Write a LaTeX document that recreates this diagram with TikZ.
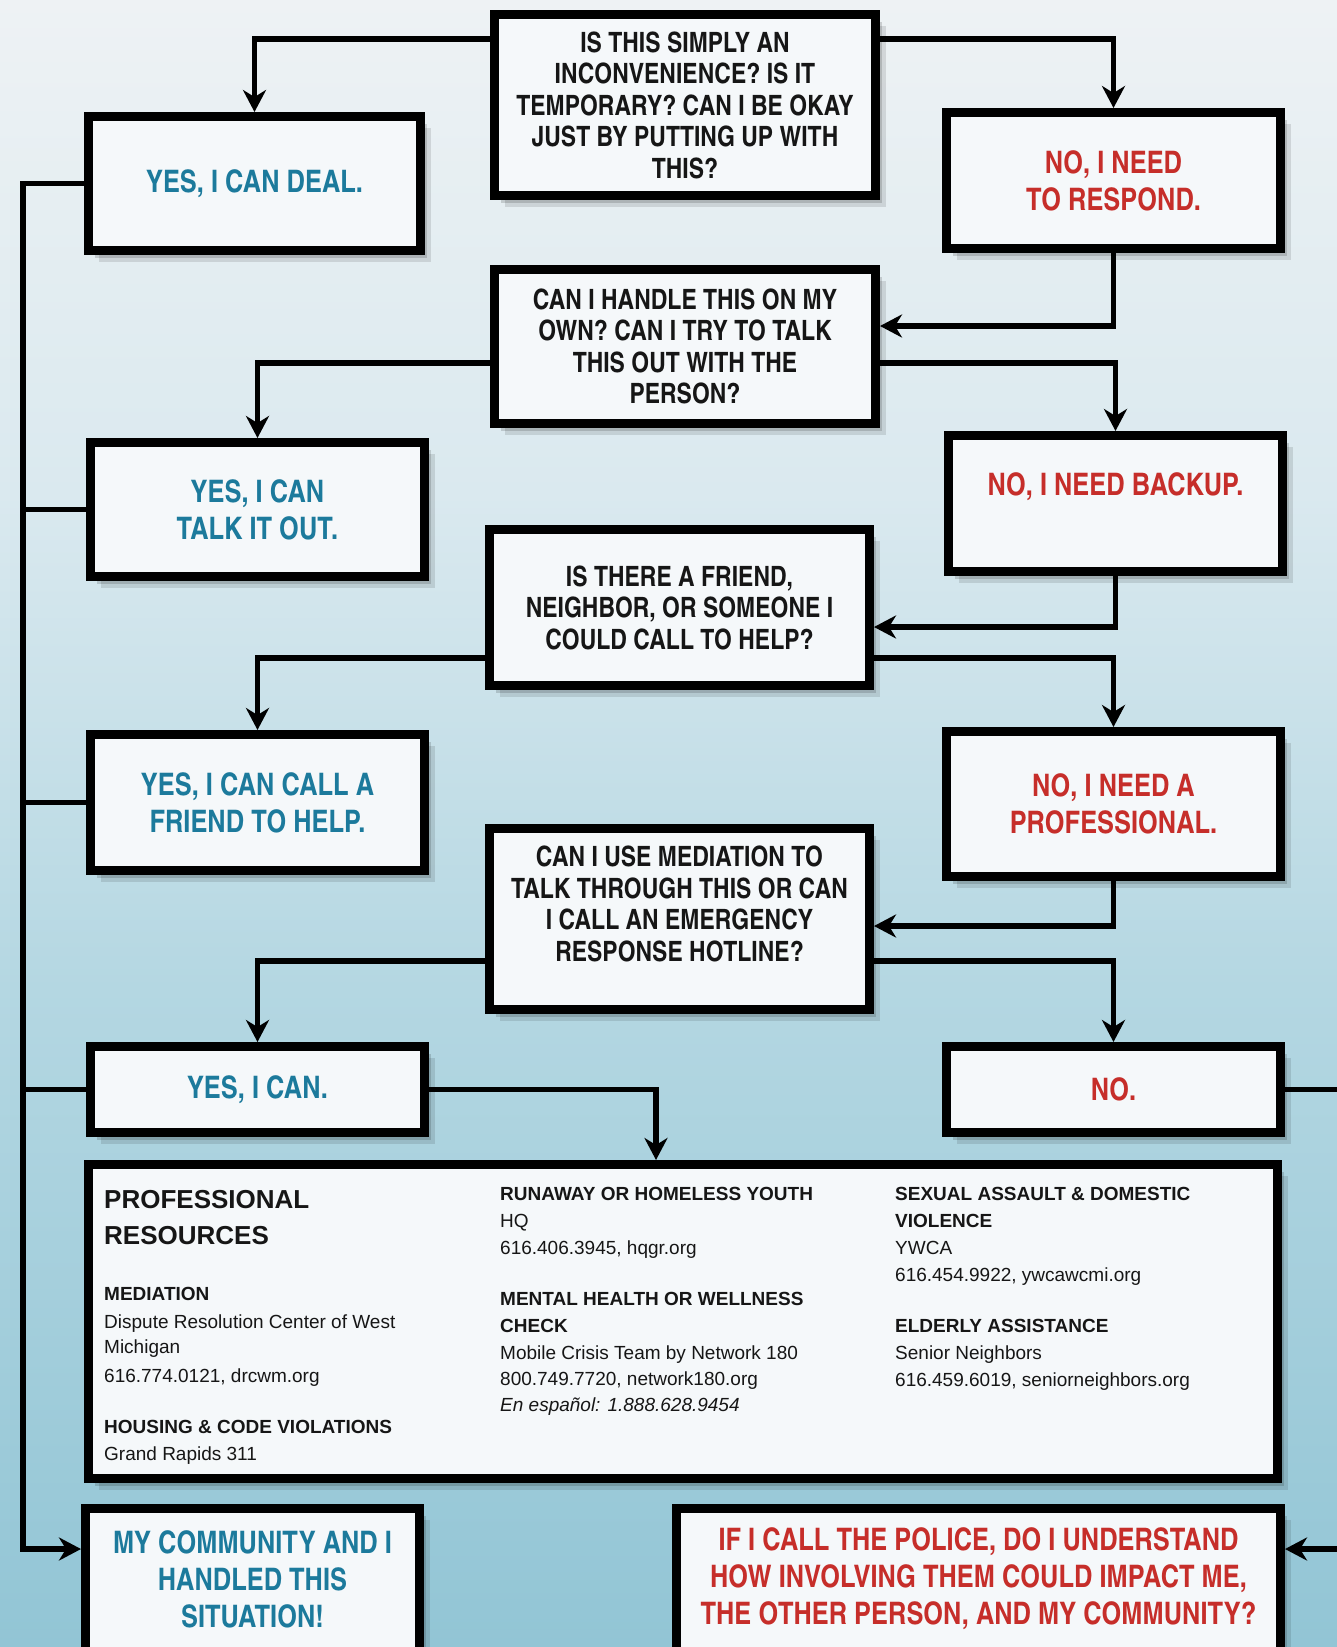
\documentclass[tikz,border=0pt]{standalone}
\usepackage{fontspec}
\setmainfont{Liberation Sans}
\newfontfamily\cn{texgyreheroscn}[Extension=.otf,UprightFont=*-regular,BoldFont=*-bold,ItalicFont=*-italic,BoldItalicFont=*-bolditalic]
\usetikzlibrary{arrows.meta,shadows}
\definecolor{bgtop}{RGB}{238,242,244}
\definecolor{bglight}{RGB}{218,233,239}
\definecolor{bgmid}{RGB}{180,215,226}
\definecolor{bgbot}{RGB}{146,197,213}
\definecolor{boxfill}{RGB}{245,248,250}
\definecolor{yesblue}{RGB}{28,122,156}
\definecolor{nored}{RGB}{198,46,42}
\definecolor{qblack}{RGB}{22,22,22}
\pgfdeclareverticalshading{bgshade}{100bp}{color(0bp)=(bgbot); color(25bp)=(bgbot); color(45bp)=(bgmid); color(60bp)=(bglight); color(75bp)=(bgtop); color(100bp)=(bgtop)}
\tikzset{
  softshadow/.style={
    drop shadow={shadow xshift=3pt,shadow yshift=-3pt,opacity=.16,fill=black},
    drop shadow={shadow xshift=6pt,shadow yshift=-7pt,opacity=.15,fill=black},
    drop shadow={shadow xshift=10pt,shadow yshift=-11pt,opacity=.11,fill=black}},
  box/.style={draw=black, line width=9pt, fill=boxfill, inner sep=0pt, align=center, softshadow},
  qtext/.style={font=\cn\bfseries\fontsize{28}{31.5}\selectfont, text=qblack},
  ytext/.style={font=\cn\bfseries\fontsize{31}{37}\selectfont, text=yesblue},
  ntext/.style={font=\cn\bfseries\fontsize{31}{37}\selectfont, text=nored},
  conn/.style={line width=5.5pt, draw=black, -{Stealth[length=22pt,width=23pt,inset=7pt]}},
  plain/.style={line width=5.5pt, draw=black},
  rhead/.style={font=\bfseries\fontsize{26}{36}\selectfont, anchor=base west, inner sep=0pt, text=qblack},
  rsub/.style={font=\bfseries\fontsize{19}{26}\selectfont, anchor=base west, inner sep=0pt, text=qblack},
  rbody/.style={font=\fontsize{19}{26}\selectfont, anchor=base west, inner sep=0pt, text=qblack},
  rital/.style={font=\itshape\fontsize{19}{26}\selectfont, anchor=base west, inner sep=0pt, text=qblack},
}
\begin{document}
\begin{tikzpicture}[x=1pt,y=-1pt]
\useasboundingbox (0,0) rectangle (1337,1647);
\fill[shading=bgshade] (0,0) rectangle (1337,1647);

% question boxes
\node[box, qtext, minimum width=381pt, minimum height=181pt] (q1) at (685,105)
  {IS THIS SIMPLY AN\\INCONVENIENCE? IS IT\\TEMPORARY? CAN I BE OKAY\\JUST BY PUTTING UP WITH\\THIS?};
\node[box, qtext, minimum width=381pt, minimum height=154pt] (q2) at (685,346.5)
  {CAN I HANDLE THIS ON MY\\OWN? CAN I TRY TO TALK\\THIS OUT WITH THE\\PERSON?};
\node[box, qtext, minimum width=380pt, minimum height=156pt] (q3) at (679.5,607.5)
  {IS THERE A FRIEND,\\NEIGHBOR, OR SOMEONE I\\COULD CALL TO HELP?};
\node[box, minimum width=380pt, minimum height=181pt,
  label={[name=q4t, qtext, align=center, yshift=15pt]center:{CAN I USE MEDIATION TO\\TALK THROUGH THIS OR CAN\\I CALL AN EMERGENCY\\RESPONSE HOTLINE?}}] (q4) at (679.5,919) {};

% yes boxes
\node[box, ytext, minimum width=332pt, minimum height=134pt] (y1) at (254.5,183.5) {YES, I CAN DEAL.};
\node[box, ytext, minimum width=334pt, minimum height=134pt] (y2) at (257.5,509.5) {YES, I CAN\\TALK IT OUT.};
\node[box, ytext, minimum width=334pt, minimum height=136pt] (y3) at (257.5,802.5) {YES, I CAN CALL A\\FRIEND TO HELP.};
\node[box, ytext, minimum width=334pt, minimum height=86pt] (y4) at (257.5,1089.5) {YES, I CAN.};

% no boxes
\node[box, ntext, minimum width=334pt, minimum height=136pt] (n1) at (1113.5,180.5) {NO, I NEED\\TO RESPOND.};
\node[box, minimum width=334pt, minimum height=136pt,
  label={[name=n2t, ntext, yshift=17pt]center:{NO, I NEED BACKUP.}}] (n2) at (1115.5,503.5) {};
\node[box, ntext, minimum width=334pt, minimum height=145pt] (n3) at (1113.5,804) {NO, I NEED A\\PROFESSIONAL.};
\node[box, ntext, minimum width=334pt, minimum height=86pt] (n4) at (1113.5,1089.5) {NO.};

% resources
\node[box, minimum width=1189pt, minimum height=314pt] (res) at (683,1321.5) {};
\node[rhead] (rh1) at (104,1208) {PROFESSIONAL};
\node[rhead] (rh2) at (104,1244) {RESOURCES};
\node[rsub]  (a1) at (104,1300) {MEDIATION};
\node[rbody] (a2) at (104,1328) {Dispute Resolution Center of West};
\node[rbody] (a3) at (104,1353) {Michigan};
\node[rbody] (a4) at (104,1382) {616.774.0121, drcwm.org};
\node[rsub]  (a5) at (104,1433) {HOUSING \& CODE VIOLATIONS};
\node[rbody] (a6) at (104,1460) {Grand Rapids 311};
\node[rsub]  (b1) at (500,1200) {RUNAWAY OR HOMELESS YOUTH};
\node[rbody] (b2) at (500,1227) {HQ};
\node[rbody] (b3) at (500,1254) {616.406.3945, hqgr.org};
\node[rsub]  (b4) at (500,1305) {MENTAL HEALTH OR WELLNESS};
\node[rsub]  (b5) at (500,1332) {CHECK};
\node[rbody] (b6) at (500,1359) {Mobile Crisis Team by Network 180};
\node[rbody] (b7) at (500,1385) {800.749.7720, network180.org};
\node[rital] (b8) at (500,1411) {En español: 1.888.628.9454};
\node[rsub]  (c1) at (895,1200) {SEXUAL ASSAULT \& DOMESTIC};
\node[rsub]  (c2) at (895,1227) {VIOLENCE};
\node[rbody] (c3) at (895,1254) {YWCA};
\node[rbody] (c4) at (895,1281) {616.454.9922, ywcawcmi.org};
\node[rsub]  (c5) at (895,1332) {ELDERLY ASSISTANCE};
\node[rbody] (c6) at (895,1359) {Senior Neighbors};
\node[rbody] (c7) at (895,1386) {616.459.6019, seniorneighbors.org};

% bottom boxes
\node[box, minimum width=334pt, minimum height=147pt,
  label={[name=cmt, ytext, align=center, yshift=3pt]center:{MY COMMUNITY AND I\\HANDLED THIS\\SITUATION!}}] (cm) at (252.5,1582) {};
\node[box, minimum width=604pt, minimum height=147pt,
  label={[name=pt, ntext, align=center, yshift=3pt]center:{IF I CALL THE POLICE, DO I UNDERSTAND\\HOW INVOLVING THEM COULD IMPACT ME,\\THE OTHER PERSON, AND MY COMMUNITY?}}] (po) at (978.5,1582) {};

% helper coordinates
\coordinate (h1) at (0,39);
\coordinate (r1) at (0,326);
\coordinate (h2) at (0,363);
\coordinate (r2) at (0,627);
\coordinate (h3) at (0,658);
\coordinate (r3) at (0,926);
\coordinate (h4) at (0,961);
\coordinate (d4) at (656,0);
\coordinate (l1) at (23,1549);
\coordinate (e1) at (1370,1549);

% connectors
\draw[conn] (q1.west |- h1) -| (y1.north);
\draw[conn] (q1.east |- h1) -| (n1.north);
\draw[conn] (n1.south) |- (q2.east |- r1);
\draw[conn] (q2.west |- h2) -| (y2.north);
\draw[conn] (q2.east |- h2) -| (n2.north);
\draw[conn] (n2.south) |- (q3.east |- r2);
\draw[conn] (q3.west |- h3) -| (y3.north);
\draw[conn] (q3.east |- h3) -| (n3.north);
\draw[conn] (n3.south) |- (q4.east |- r3);
\draw[conn] (q4.west |- h4) -| (y4.north);
\draw[conn] (q4.east |- h4) -| (n4.north);
\draw[conn] (y4.east) -| (d4 |- res.north);
\draw[conn] (y1.west) -| (l1) -- (cm.west |- l1);
\draw[plain] (y2.west) -- (y2.west -| l1);
\draw[plain] (y3.west) -- (y3.west -| l1);
\draw[plain] (y4.west) -- (y4.west -| l1);
\draw[conn] (n4.east) -| (e1) -- (po.east |- e1);
\end{tikzpicture}
\end{document}
